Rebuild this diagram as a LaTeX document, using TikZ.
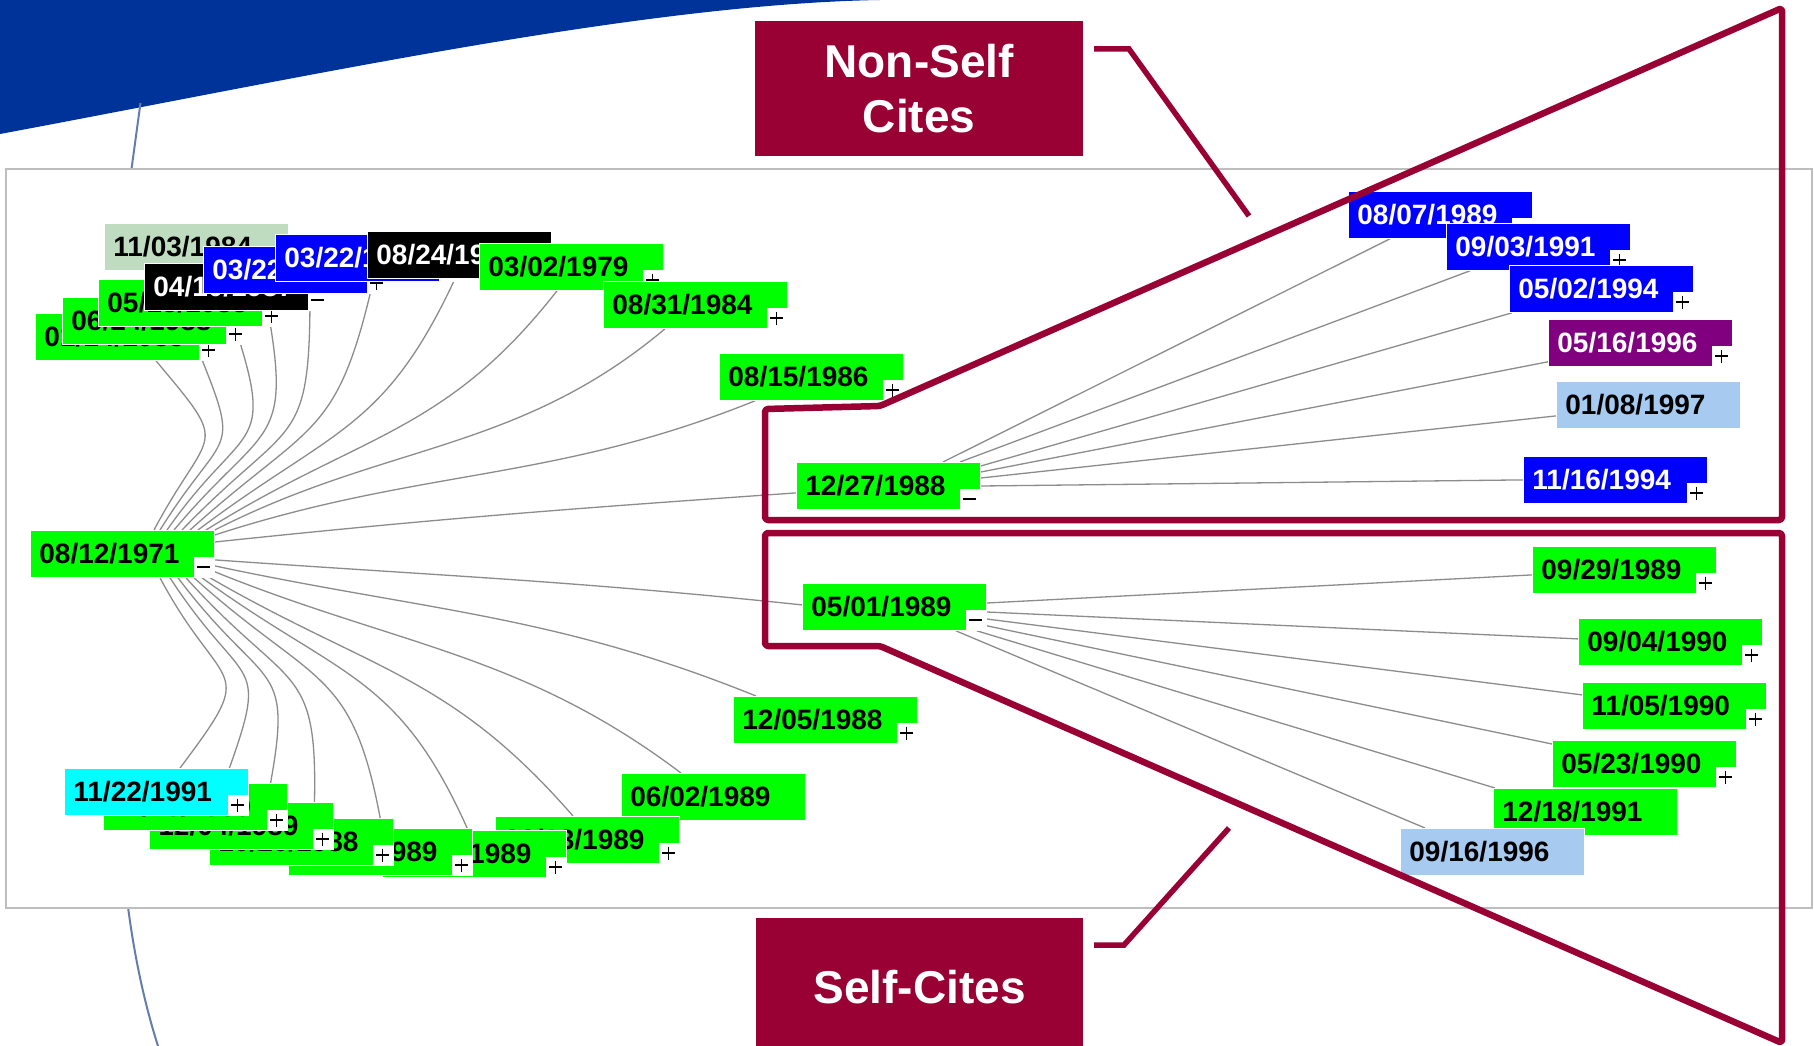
\documentclass[tikz,border=0pt]{standalone}
\usepackage{fontspec}
\setmainfont{Liberation Sans}
\usetikzlibrary{calc}
\definecolor{cGreen}{RGB}{0,255,0}
\definecolor{cBlue}{RGB}{0,0,255}
\definecolor{cPurple}{RGB}{128,0,128}
\definecolor{cSky}{RGB}{166,202,240}
\definecolor{cCyan}{RGB}{0,255,255}
\definecolor{cMoney}{RGB}{192,220,192}
\definecolor{cMaroon}{RGB}{153,0,51}
\definecolor{cSwoosh}{RGB}{0,51,153}
\definecolor{cArc}{RGB}{100,125,175}
\definecolor{cLine}{RGB}{140,140,140}
\definecolor{cPanel}{RGB}{190,190,190}
\pgfdeclarelayer{back}
\pgfdeclarelayer{lines}
\pgfsetlayers{back,lines,main}
\newcommand\mkdate[5]{\node[#4] (#1) at (#2,#3) {#5};}
\newcommand\mksign[2]{\node[#2] (#1s) at ($(#1.south east)+(-1.5,-1)$) {};}
\begin{document}
\begin{tikzpicture}[x=1pt,y=-1pt,
  dbox/.style={anchor=north west, minimum height=47pt, text width=166pt, inner xsep=9pt, inner ysep=0pt, align=left, font=\fontsize{28}{30}\selectfont\bfseries, draw=white, line width=0.8pt},
  gbox/.style={dbox, fill=cGreen, text=black},
  bbox/.style={dbox, fill=cBlue, text=white},
  kbox/.style={dbox, fill=black, text=white},
  pbox/.style={dbox, fill=cPurple, text=white},
  sbox/.style={dbox, fill=cSky, text=black},
  cbox/.style={dbox, fill=cCyan, text=black},
  mbox/.style={dbox, fill=cMoney, text=black},
  sq/.style={anchor=south east, fill=white, draw=white, minimum width=19pt, minimum height=19pt, inner sep=0pt, line width=0.5pt},
  sqp/.style={sq, path picture={\draw[black,line width=1.6pt] ($(path picture bounding box.center)+(-6.5,0)$) -- ($(path picture bounding box.center)+(6.5,0)$) ($(path picture bounding box.center)+(0,-6.5)$) -- ($(path picture bounding box.center)+(0,6.5)$);}},
  sqm/.style={sq, path picture={\draw[black,line width=1.6pt] ($(path picture bounding box.center)+(-6.5,0)$) -- ($(path picture bounding box.center)+(6.5,0)$);}},
  conn/.style={draw=cLine, line width=1.3pt},
  maroonline/.style={draw=cMaroon, line width=6.5pt, line join=round, rounded corners=3pt},
  leader/.style={draw=cMaroon, line width=5.5pt},
  callout/.style={fill=cMaroon, text=white, font=\fontsize{46}{55}\selectfont\bfseries, align=center, inner sep=0pt, anchor=north west}
]
\useasboundingbox (0,0) rectangle (1814,1046);

% ---------- nodes: upper-left cluster ----------
\mkdate{n1103}{104}{223}{mbox}{11/03/1984}
\mkdate{nA}{35}{313}{gbox}{01/14/1985}\mksign{nA}{sqp}
\mkdate{n06}{62}{297}{gbox}{06/24/1988}\mksign{n06}{sqp}
\mkdate{n05}{98}{279}{gbox}{05/18/1988}\mksign{n05}{sqp}
\mkdate{n04}{144}{263}{kbox}{04/10/1987}\mksign{n04}{sqm}
\mkdate{nb1}{203}{246}{bbox}{03/22/1988}\mksign{nb1}{sqp}
\mkdate{nb2}{275}{234}{bbox}{03/22/1989}\mksign{nb2}{sqp}
\mkdate{n0824}{367}{231}{kbox}{08/24/1987}\mksign{n0824}{sqp}
\mkdate{n0302}{479}{243}{gbox}{03/02/1979}\mksign{n0302}{sqp}
\mkdate{n0831}{603}{281}{gbox}{08/31/1984}\mksign{n0831}{sqp}
\mkdate{n0815}{719}{353}{gbox}{08/15/1986}\mksign{n0815}{sqp}
\mkdate{n1227}{796}{462}{gbox}{12/27/1988}\mksign{n1227}{sqm}
\mkdate{n0501}{802}{583}{gbox}{05/01/1989}\mksign{n0501}{sqm}
\mkdate{n1205}{733}{696}{gbox}{12/05/1988}\mksign{n1205}{sqp}
\mkdate{root}{30}{530}{gbox}{08/12/1971}\mksign{root}{sqm}
% ---------- lower-left cluster ----------
\mkdate{n0602}{621}{773}{gbox}{06/02/1989}
\mkdate{nc7}{495}{816}{gbox}{06/13/1989}\mksign{nc7}{sqp}
\mkdate{nc6}{382}{830}{gbox}{02/10/1989}\mksign{nc6}{sqp}
\mkdate{nc5}{288}{828}{gbox}{07/18/1989}\mksign{nc5}{sqp}
\mkdate{nc4}{209}{818}{gbox}{10/20/1988}\mksign{nc4}{sqp}
\mkdate{nc3}{149}{802}{gbox}{12/04/1989}\mksign{nc3}{sqp}
\mkdate{nc2}{103}{783}{gbox}{11/15/1989}\mksign{nc2}{sqp}
\mkdate{ncy}{64}{768}{cbox}{11/22/1991}\mksign{ncy}{sqp}
% ---------- right: non-self ----------
\mkdate{r0807}{1348}{191}{bbox}{08/07/1989}\mksign{r0807}{sqm}
\mkdate{r0903}{1446}{223}{bbox}{09/03/1991}\mksign{r0903}{sqp}
\mkdate{r0502}{1509}{265}{bbox}{05/02/1994}\mksign{r0502}{sqp}
\mkdate{r0516}{1548}{319}{pbox}{05/16/1996}\mksign{r0516}{sqp}
\mkdate{r0108}{1556}{381}{sbox}{01/08/1997}
\mkdate{r1116}{1523}{456}{bbox}{11/16/1994}\mksign{r1116}{sqp}
% ---------- right: self ----------
\mkdate{s0929}{1532}{546}{gbox}{09/29/1989}\mksign{s0929}{sqp}
\mkdate{s0904}{1578}{618}{gbox}{09/04/1990}\mksign{s0904}{sqp}
\mkdate{s1105}{1582}{682}{gbox}{11/05/1990}\mksign{s1105}{sqp}
\mkdate{s0523}{1552}{740}{gbox}{05/23/1990}\mksign{s0523}{sqp}
\mkdate{s1218}{1493}{788}{gbox}{12/18/1991}
\mkdate{s0916}{1400}{828}{sbox}{09/16/1996}

% ---------- connectors ----------
\begin{pgfonlayer}{lines}
\draw[conn] ($(root.north west)+(124,0)$) to[out=62,in=-50,looseness=1.8] ($(nA.south west)+(121,0)$);
\draw[conn] ($(root.north west)+(130,0)$) to[out=58,in=-68,looseness=1.7] ($(n06.south west)+(134,0)$);
\draw[conn] ($(root.north west)+(137,0)$) to[out=55,in=-72,looseness=1.6] ($(n05.south west)+(137,0)$);
\draw[conn] ($(root.north west)+(144,0)$) to[out=50,in=-80,looseness=1.5] ($(n04.south west)+(124,0)$);
\draw[conn] ($(root.north west)+(152,0)$) to[out=46,in=-90,looseness=1.5] ($(nb1.south west)+(107,0)$);
\draw[conn] ($(root.north west)+(160,0)$) to[out=42,in=-103,looseness=1.35] ($(nb2.south west)+(98,0)$);
\draw[conn] ($(root.north west)+(168,0)$) to[out=37,in=-115,looseness=1.2] ($(n0824.south west)+(88,0)$);
\draw[conn] ($(root.north west)+(176,0)$) to[out=32,in=-128,looseness=1.1] ($(n0302.south west)+(78,0)$);
\draw[conn] (root.north east) to[out=27,in=-140] ($(n0831.south west)+(62,0)$);
\draw[conn] ($(root.north east)+(0,5)$) to[out=18,in=-158] ($(n0815.south west)+(36,0)$);
\draw[conn] ($(root.north east)+(0,12)$) to[out=6,in=-176] ($(n1227.west)+(0,7)$);
\draw[conn] ($(root.east)+(0,6)$) to[out=-4,in=174] ($(n0501.west)+(0,-2)$);
\draw[conn] ($(root.east)+(0,12)$) to[out=-12,in=158] ($(n1205.north west)+(23,0)$);
\draw[conn] ($(root.south east)+(0,-6)$) to[out=-22,in=143] ($(n0602.north west)+(60,0)$);
\draw[conn] ($(root.south west)+(180,0)$) to[out=-30,in=131,looseness=1.1] ($(nc7.north west)+(78,0)$);
\draw[conn] ($(root.south west)+(172,0)$) to[out=-36,in=114,looseness=1.2] ($(nc6.north west)+(86,0)$);
\draw[conn] ($(root.south west)+(164,0)$) to[out=-42,in=100,looseness=1.35] ($(nc5.north west)+(94,0)$);
\draw[conn] ($(root.south west)+(156,0)$) to[out=-48,in=88,looseness=1.5] ($(nc4.north west)+(105,0)$);
\draw[conn] ($(root.south west)+(148,0)$) to[out=-53,in=79,looseness=1.6] ($(nc3.north west)+(118,0)$);
\draw[conn] ($(root.south west)+(140,0)$) to[out=-57,in=70,looseness=1.7] ($(nc2.north west)+(121,0)$);
\draw[conn] ($(root.south west)+(130,0)$) to[out=-62,in=53,looseness=1.8] ($(ncy.north west)+(116,0)$);
% non-self fan
\draw[conn] ($(n1227.north west)+(147,0)$) -- ($(r0807.south west)+(42,0)$);
\draw[conn] ($(n1227.north west)+(164,0)$) -- ($(r0903.south west)+(24,0)$);
\draw[conn] ($(n1227.north east)+(0,4)$) -- ($(r0502.south west)+(3,0)$);
\draw[conn] ($(n1227.north east)+(0,10)$) -- ($(r0516.south west)+(0,-5)$);
\draw[conn] ($(n1227.north east)+(0,16)$) -- ($(r0108.west)+(0,11)$);
\draw[conn] ($(n1227.north east)+(0,24)$) -- (r1116.west);
% self fan
\draw[conn] ($(n0501.north east)+(0,20)$) -- ($(s0929.west)+(0,5)$);
\draw[conn] ($(n0501.north east)+(0,29)$) -- ($(s0904.west)+(0,-3)$);
\draw[conn] ($(n0501.north east)+(0,36)$) -- ($(s1105.west)+(0,-11)$);
\draw[conn] ($(n0501.south east)+(0,-5)$) -- ($(s0523.north west)+(0,4)$);
\draw[conn] ($(n0501.south east)+(-10,0)$) -- ($(s1218.north west)+(2,0)$);
\draw[conn] ($(n0501.south east)+(-31,0)$) -- ($(s0916.north west)+(25,0)$);
\end{pgfonlayer}

% ---------- background ----------
\begin{pgfonlayer}{back}
\fill[white] (0,0) rectangle (1814,1046);
\fill[cSwoosh] (0,0) -- (880,0) .. controls (640,4) and (300,78) .. (0,134) -- cycle;
\draw[cArc, line width=2pt] (140.5,103) -- (131.5,169);
\draw[cArc, line width=2pt] (128,907) .. controls (135,960) and (145,1005) .. (158,1046);
\draw[cPanel, line width=1.5pt, fill=white] (6,169) rectangle (1812,908);
\end{pgfonlayer}

% ---------- highlight outlines ----------
\draw[maroonline] (880,406) -- (1782,8) -- (1782,520) -- (765,520) -- (765,409) -- cycle;
\draw[maroonline] (765,533) -- (1782,533) -- (1782,1043) -- (880,646) -- (765,646) -- cycle;

% ---------- callouts ----------
\node[callout, minimum width=328pt, minimum height=135pt] (ns) at (755,21) {Non-Self\\Cites};
\node[callout, minimum width=327pt, minimum height=138pt] (sc) at (756,918) {Self-Cites};
\coordinate (nsA) at (1094,49);
\coordinate (nsB) at (1129,49);
\coordinate (nsC) at (1249,216);
\draw[leader] (nsA) -- (nsB) -- (nsC);
\coordinate (scA) at (1094,945);
\coordinate (scB) at (1124,945);
\coordinate (scC) at (1229,828);
\draw[leader] (scA) -- (scB) -- (scC);
\end{tikzpicture}
\end{document}
